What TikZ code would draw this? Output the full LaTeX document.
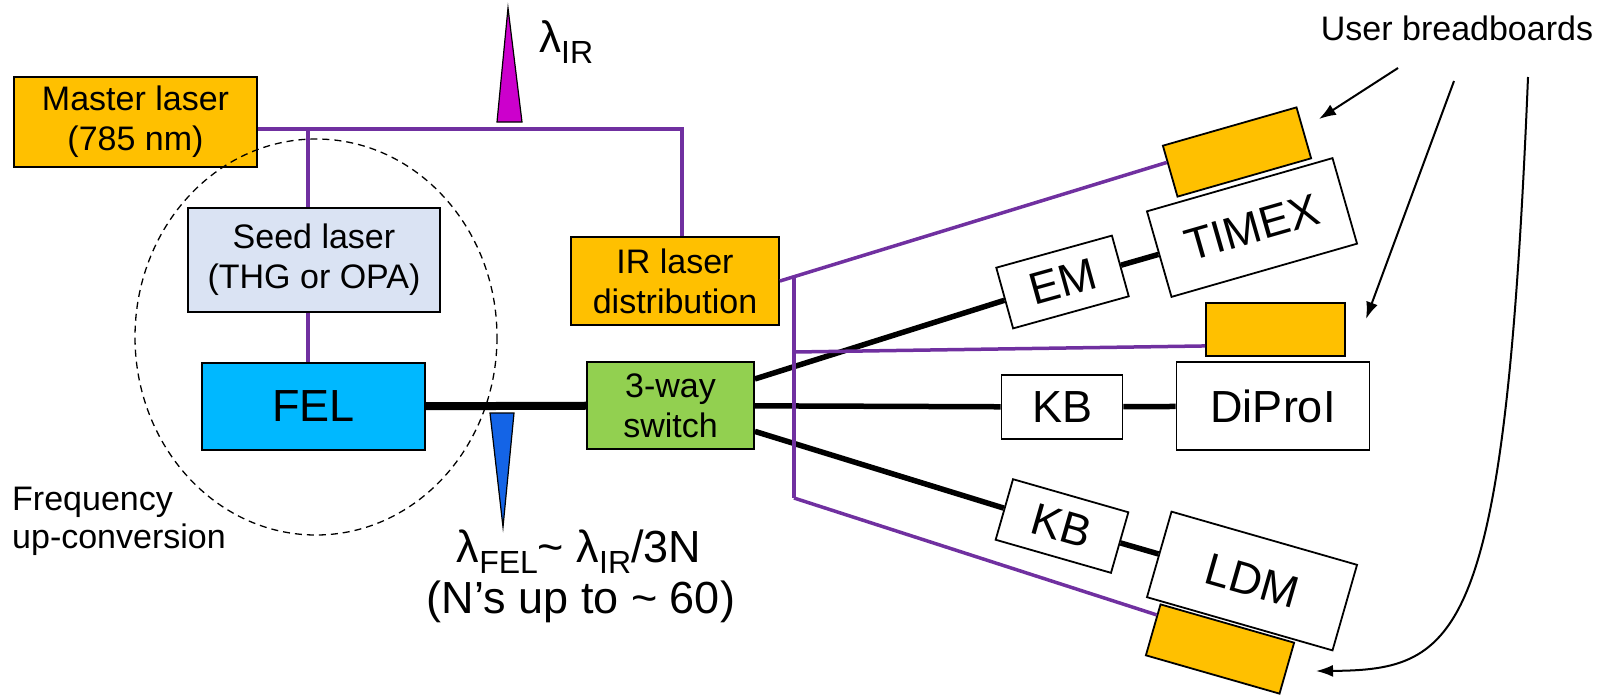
\documentclass[tikz,border=0pt]{standalone}
\usepackage{fontspec}
\setmainfont{Liberation Sans}
\usetikzlibrary{arrows.meta,calc}

\definecolor{laserorange}{RGB}{255,192,0}
\definecolor{seedblue}{RGB}{218,227,243}
\definecolor{felcyan}{RGB}{0,184,255}
\definecolor{switchgreen}{RGB}{146,208,80}
\definecolor{irpurple}{RGB}{112,48,160}
\definecolor{irmagenta}{RGB}{204,0,204}
\definecolor{felblue}{RGB}{20,100,230}

\newcommand{\lsub}[1]{\raisebox{-0.25em}{\fontsize{32}{32}\selectfont #1}}

\tikzset{
  box/.style={draw=black, line width=1.8pt, inner sep=0pt, align=center,
    font=\fontsize{34}{40}\selectfont},
  bigbox/.style={box, font=\fontsize{45}{52}\selectfont},
  bboard/.style={draw=black, line width=1.8pt, fill=laserorange, inner sep=0pt,
    minimum width=139pt, minimum height=53pt},
  beam/.style={line width=5.5pt},
  irbeam/.style={draw=irpurple, line width=3.5pt},
}

\begin{document}
\begin{tikzpicture}[x=1pt, y=-1pt, >={Latex[length=17pt,width=12pt]}]
    \useasboundingbox (0,0) rectangle (1602,697);

    % 1. Laser side
    \node[box, fill=laserorange, minimum width=243pt, minimum height=90pt]
        (master) at (135.5,122) {Master laser\\(785 nm)};
    \node[box, fill=seedblue, minimum width=252pt, minimum height=104pt]
        (seed) at (314,260) {Seed laser\\(THG or OPA)};
    \node[box, fill=laserorange, minimum width=208pt, minimum height=88pt]
        (irdist) at (675,281) {IR laser\\distribution};
    \node[bigbox, fill=felcyan, minimum width=223pt, minimum height=87pt]
        (fel) at (313.5,406.5) {FEL};
    \node[box, fill=switchgreen, minimum width=167pt, minimum height=87pt]
        (sw) at (670.5,405.5) {3-way\\switch};

    % 2. Beamlines
    \node[bigbox, fill=white, minimum width=120pt, minimum height=63pt, rotate=15.5]
        (em) at (1062.5,282) {EM};
    \node[bigbox, fill=white, minimum width=193pt, minimum height=89pt, rotate=16]
        (timex) at (1252,227.5) {TIMEX};
    \node[bigbox, fill=white, minimum width=121pt, minimum height=64pt]
        (kba) at (1062,407) {KB};
    \node[bigbox, fill=white, minimum width=193pt, minimum height=88pt]
        (diproi) at (1273,406) {DiProI};
    \node[bigbox, fill=white, minimum width=120pt, minimum height=63pt, rotate=-16]
        (kbb) at (1062,526) {KB};
    \node[bigbox, fill=white, minimum width=193pt, minimum height=89pt, rotate=-16]
        (ldm) at (1252,581) {LDM};

    % 3. User breadboards
    \node[bboard, rotate=16] (bbtop) at (1237,152) {};
    \node[bboard] (bbmid) at (1275.5,329.5) {};
    \node[bboard, rotate=-16] (bbbot) at (1220,649) {};

    % 4. FEL and X-ray beams
    \draw[line width=8pt] (fel) -- (sw);
    \draw[beam] (sw) -- (em);
    \draw[beam] (em) -- (timex);
    \draw[beam] (sw) -- (kba);
    \draw[beam] (kba) -- (diproi);
    \draw[beam] (sw) -- (kbb);
    \draw[beam] (kbb) -- (ldm);

    % 5. IR beams
    \coordinate (ml) at (682,129);
    \coordinate (sb) at (308,129);
    \draw[irbeam] (master.east |- ml) -- (ml) -- (ml |- irdist.north);
    \draw[irbeam] (sb) -- (sb |- seed.north);
    \draw[irbeam] (sb |- seed.south) -- (sb |- fel.north);

    \coordinate (vt) at (794,276.5);
    \coordinate (vm) at (794,352);
    \coordinate (vb) at (794,498);
    \draw[irbeam] (irdist.east) -- ($(bbtop.south west)!0.67!(bbtop.north west)$);
    \draw[irbeam] (vt) -- (vb);
    \draw[irbeam] (vm) -- ($(bbmid.south west)!0.2!(bbmid.north west)$);
    \draw[irbeam] (vb) -- ($(bbbot.south west)!0.78!(bbbot.north west)$);

    % 6. Frequency up-conversion
    \draw[dashed, line width=1.3pt, dash pattern=on 7pt off 5pt]
        (316,337) ellipse [x radius=181, y radius=198];
    \node[anchor=base west, inner sep=0pt, font=\fontsize{34}{40}\selectfont]
        (freq) at (12,510) {Frequency};
    \node[anchor=base west, inner sep=0pt, font=\fontsize{34}{40}\selectfont]
        (upconv) at (12,548) {up-conversion};

    % 7. Wavelength markers
    \draw[fill=irmagenta, line width=1.2pt] (497,122) -- (508,8) -- (522,122) -- cycle;
    \node[anchor=base west, inner sep=0pt, font=\fontsize{44}{50}\selectfont]
        (lamir) at (539,52) {λ\lsub{IR}};
    \draw[fill=felblue, line width=1.2pt] (490,413) -- (514,413) -- (503,527) -- cycle;
    \node[anchor=base, inner sep=0pt, font=\fontsize{45}{52}\selectfont]
        (lamfel) at (579,562) {λ\lsub{FEL}\textasciitilde{} λ\lsub{IR}/3N};
    \node[anchor=base, inner sep=0pt, font=\fontsize{45}{52}\selectfont]
        (nrange) at (581,613) {(N’s up to \textasciitilde{} 60)};

    % 8. Pointers to the breadboards
    \node[anchor=base, inner sep=0pt, font=\fontsize{34}{40}\selectfont]
        (users) at (1457,40) {User breadboards};
    \coordinate (ua) at (1398,68);
    \coordinate (ub) at (1454,81);
    \coordinate (uc) at (1528,77);
    \coordinate (ta) at (1319,119);
    \coordinate (tb) at (1366,319);
    \coordinate (tc) at (1316,671);
    \draw[->, line width=2pt] (ua) -- (ta);
    \draw[->, line width=2pt] (ub) -- (tb);
    \draw[->, line width=2pt] (uc) .. controls (1505,640) and (1460,670) .. (tc);

\end{tikzpicture}
\end{document}
